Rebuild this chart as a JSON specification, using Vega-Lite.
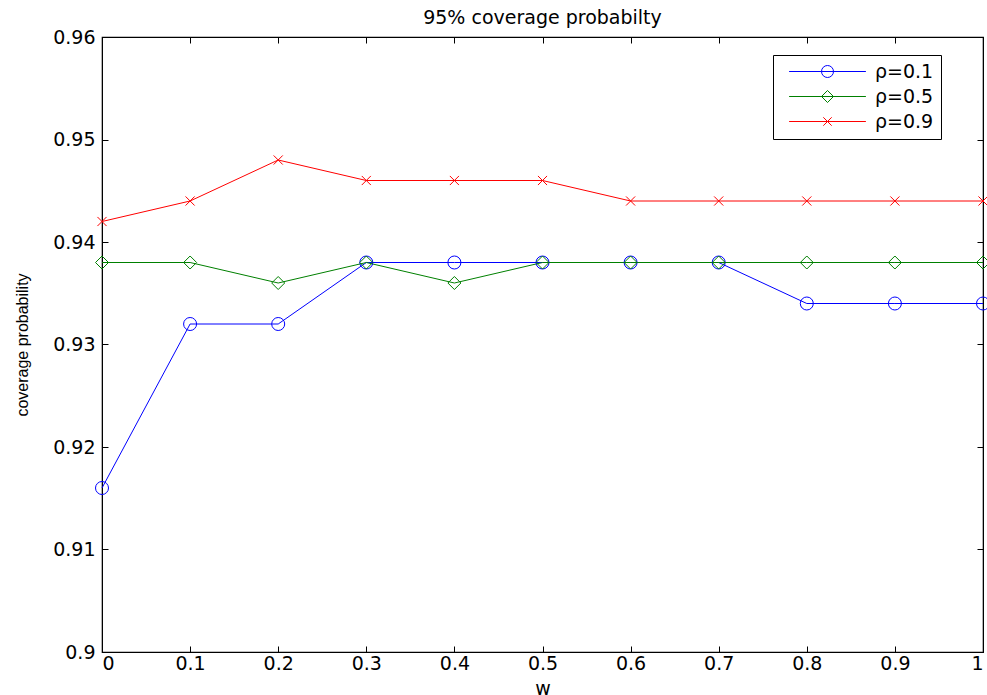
{
  "$schema": "https://vega.github.io/schema/vega-lite/v6.json",
  "autosize": {"type": "none"},
  "padding": {"left": 102, "top": 37, "right": 4, "bottom": 43},
  "width": 881,
  "height": 615,
  "background": "white",
  "title": {"text": "95% coverage probabilty", "font": "DejaVu Sans", "fontSize": 19, "fontWeight": "normal", "color": "black", "offset": 0},
  "config": {
    "view": {"stroke": "black", "strokeWidth": 1.2},
    "axis": {
      "grid": false,
      "domainColor": "black",
      "tickColor": "black",
      "labelColor": "black",
      "labelFont": "DejaVu Sans",
      "labelFontSize": 19,
      "tickSize": -6,
      "titleColor": "black",
      "titleFontWeight": "normal"
    },
    "legend": {
      "labelFont": "DejaVu Sans",
      "labelFontSize": 19,
      "labelColor": "black"
    }
  },
  "data": {
    "values": [
      {"w": 0, "p": 0.916, "s": "ρ=0.1"},
      {"w": 0.1, "p": 0.932, "s": "ρ=0.1"},
      {"w": 0.2, "p": 0.932, "s": "ρ=0.1"},
      {"w": 0.3, "p": 0.938, "s": "ρ=0.1"},
      {"w": 0.4, "p": 0.938, "s": "ρ=0.1"},
      {"w": 0.5, "p": 0.938, "s": "ρ=0.1"},
      {"w": 0.6, "p": 0.938, "s": "ρ=0.1"},
      {"w": 0.7, "p": 0.938, "s": "ρ=0.1"},
      {"w": 0.8, "p": 0.934, "s": "ρ=0.1"},
      {"w": 0.9, "p": 0.934, "s": "ρ=0.1"},
      {"w": 1, "p": 0.934, "s": "ρ=0.1"},
      {"w": 0, "p": 0.938, "s": "ρ=0.5"},
      {"w": 0.1, "p": 0.938, "s": "ρ=0.5"},
      {"w": 0.2, "p": 0.936, "s": "ρ=0.5"},
      {"w": 0.3, "p": 0.938, "s": "ρ=0.5"},
      {"w": 0.4, "p": 0.936, "s": "ρ=0.5"},
      {"w": 0.5, "p": 0.938, "s": "ρ=0.5"},
      {"w": 0.6, "p": 0.938, "s": "ρ=0.5"},
      {"w": 0.7, "p": 0.938, "s": "ρ=0.5"},
      {"w": 0.8, "p": 0.938, "s": "ρ=0.5"},
      {"w": 0.9, "p": 0.938, "s": "ρ=0.5"},
      {"w": 1, "p": 0.938, "s": "ρ=0.5"},
      {"w": 0, "p": 0.942, "s": "ρ=0.9"},
      {"w": 0.1, "p": 0.944, "s": "ρ=0.9"},
      {"w": 0.2, "p": 0.948, "s": "ρ=0.9"},
      {"w": 0.3, "p": 0.946, "s": "ρ=0.9"},
      {"w": 0.4, "p": 0.946, "s": "ρ=0.9"},
      {"w": 0.5, "p": 0.946, "s": "ρ=0.9"},
      {"w": 0.6, "p": 0.944, "s": "ρ=0.9"},
      {"w": 0.7, "p": 0.944, "s": "ρ=0.9"},
      {"w": 0.8, "p": 0.944, "s": "ρ=0.9"},
      {"w": 0.9, "p": 0.944, "s": "ρ=0.9"},
      {"w": 1, "p": 0.944, "s": "ρ=0.9"}
    ]
  },
  "layer": [
    {
      "mark": {"type": "line", "strokeWidth": 1},
      "encoding": {
        "x": {
          "field": "w", "type": "quantitative",
          "scale": {"domain": [0, 1], "nice": false, "zero": false},
          "axis": {"values": [0, 0.1, 0.2, 0.3, 0.4, 0.5, 0.6, 0.7, 0.8, 0.9, 1], "format": "~g", "title": "w", "titleFont": "DejaVu Sans", "titleFontSize": 19, "titlePadding": 6, "labelPadding": 8}
        },
        "y": {
          "field": "p", "type": "quantitative",
          "scale": {"domain": [0.9, 0.96], "nice": false, "zero": false},
          "axis": {"values": [0.9, 0.91, 0.92, 0.93, 0.94, 0.95, 0.96], "format": "~g", "title": "coverage probability", "titleFont": "Liberation Sans", "titleFontSize": 16, "titlePadding": 22, "labelPadding": 13}
        },
        "stroke": {
          "field": "s", "type": "nominal",
          "scale": {"domain": ["ρ=0.1", "ρ=0.5", "ρ=0.9"], "range": ["#0000ff", "#008000", "#ff0000"]},
          "legend": {
            "title": null,
            "orient": "none",
            "legendX": 671,
            "legendY": 18,
            "padding": 7,
            "strokeColor": "black",
            "symbolType": "M-6.4,0L6.4,0",
            "symbolSize": 144,
            "symbolStrokeWidth": 1,
            "symbolOffset": 38,
            "labelOffset": 38,
            "rowPadding": 5
          }
        }
      }
    },
    {
      "mark": {"type": "point", "filled": false, "strokeWidth": 1, "size": 169, "opacity": 1},
      "encoding": {
        "x": {
          "field": "w", "type": "quantitative",
          "axis": {"orient": "top", "values": [0, 0.1, 0.2, 0.3, 0.4, 0.5, 0.6, 0.7, 0.8, 0.9, 1], "labels": false, "title": null}
        },
        "y": {
          "field": "p", "type": "quantitative",
          "axis": {"orient": "right", "values": [0.9, 0.91, 0.92, 0.93, 0.94, 0.95, 0.96], "labels": false, "title": null}
        },
        "color": {
          "field": "s", "type": "nominal",
          "scale": {"range": ["#0000ff", "#008000", "#ff0000"]}
        },
        "shape": {
          "field": "s", "type": "nominal",
          "scale": {"range": ["circle", "diamond", "M-0.7,-0.7L0.7,0.7M-0.7,0.7L0.7,-0.7"]},
          "legend": {
            "title": null,
            "orient": "none",
            "legendX": 671,
            "legendY": 18,
            "padding": 7,
            "symbolSize": 144,
            "symbolStrokeWidth": 1,
            "symbolOffset": 38,
            "labelOffset": 38,
            "rowPadding": 5,
            "labelOpacity": 0
          }
        }
      }
    }
  ],
  "resolve": {"axis": {"x": "independent", "y": "independent"}}
}
